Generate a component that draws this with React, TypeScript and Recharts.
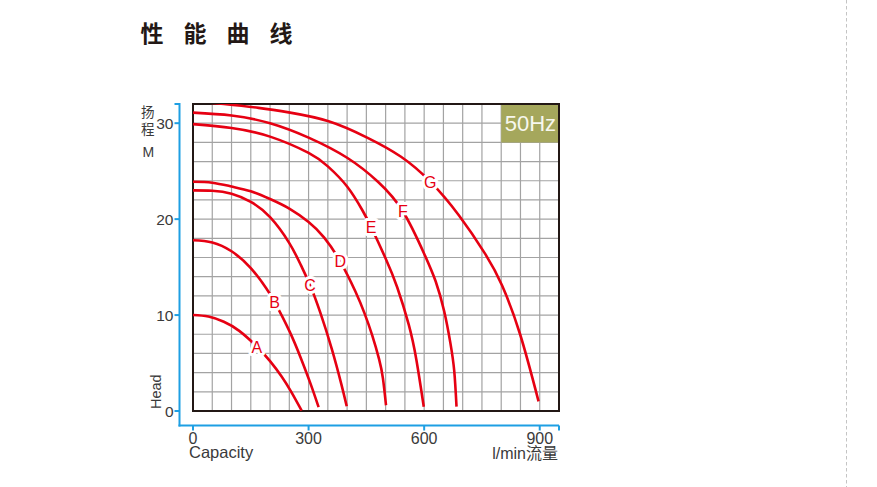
import React from "react";
import { LineChart, Line, XAxis, YAxis, CartesianGrid, ReferenceArea, LabelList } from "recharts";

// grid every 50 l/min and every 2 m, blue axis marks and labels
const xGrid = [0, 50, 100, 150, 200, 250, 300, 350, 400, 450, 500, 550, 600, 650, 700, 750, 800, 850, 900, 950];
const yGrid = [0, 2, 4, 6, 8, 10, 12, 14, 16, 18, 20, 22, 24, 26, 28, 30, 32];
const xMarks = [0, 300, 600, 900, 950];
const xLabels = [0, 300, 600, 900];
const yMarks = [0, 10, 20, 30, 32];
const yLabels = [0, 10, 20, 30];

type Pt = { q: number; h: number; tag?: string };

const curveA: Pt[] = [
  { q: 0, h: 10 }, { q: 40, h: 9.84 }, { q: 80, h: 9.3 }, { q: 120, h: 8.35 }, { q: 166, h: 6.7, tag: "A" },
  { q: 200, h: 5.2 }, { q: 230, h: 3.6 }, { q: 255, h: 2.0 }, { q: 282, h: 0.05 },
];
const curveB: Pt[] = [
  { q: 0, h: 17.8 }, { q: 50, h: 17.57 }, { q: 100, h: 16.65 }, { q: 150, h: 14.9 }, { q: 190, h: 12.8 },
  { q: 212, h: 11.35, tag: "B" }, { q: 250, h: 8.35 }, { q: 280, h: 5.5 }, { q: 305, h: 2.85 }, { q: 326, h: 0.4 },
];
const curveC: Pt[] = [
  { q: 0, h: 23.0 }, { q: 50, h: 22.96 }, { q: 100, h: 22.65 }, { q: 150, h: 21.8 }, { q: 200, h: 20.2 },
  { q: 250, h: 17.5 }, { q: 280, h: 15.2 }, { q: 304, h: 13.1, tag: "C" }, { q: 330, h: 10.3 },
  { q: 360, h: 6.5 }, { q: 385, h: 2.8 }, { q: 399, h: 0.5 },
];
const curveD: Pt[] = [
  { q: 0, h: 23.9 }, { q: 50, h: 23.8 }, { q: 100, h: 23.4 }, { q: 150, h: 22.9 }, { q: 200, h: 22.1 },
  { q: 250, h: 21.1 }, { q: 300, h: 19.7 }, { q: 340, h: 18.1 }, { q: 382, h: 15.6, tag: "D" },
  { q: 421, h: 12.5 }, { q: 445, h: 10.2 }, { q: 465, h: 7.9 }, { q: 483, h: 5.4 }, { q: 493, h: 3.4 }, { q: 501, h: 0.6 },
];
const curveE: Pt[] = [
  { q: 0, h: 29.9 }, { q: 100, h: 29.5 }, { q: 200, h: 28.6 }, { q: 300, h: 26.9 }, { q: 350, h: 25.5 },
  { q: 400, h: 23.4 }, { q: 440, h: 20.9 }, { q: 462, h: 19.2, tag: "E" }, { q: 500, h: 15.9 },
  { q: 530, h: 12.9 }, { q: 560, h: 9.0 }, { q: 580, h: 5.3 }, { q: 599, h: 0.45 },
];
const curveF: Pt[] = [
  { q: 0, h: 31.1 }, { q: 100, h: 30.8 }, { q: 200, h: 30.0 }, { q: 300, h: 28.5 }, { q: 400, h: 26.4 },
  { q: 480, h: 23.9 }, { q: 545, h: 20.8, tag: "F" }, { q: 600, h: 16.4 }, { q: 630, h: 13.5 },
  { q: 652, h: 10.4 }, { q: 668, h: 7.1 }, { q: 678, h: 4.2 }, { q: 684, h: 0.45 },
];
const curveG: Pt[] = [
  { q: 0, h: 32.3 }, { q: 80, h: 32.0 }, { q: 170, h: 31.6 }, { q: 252, h: 31.1 }, { q: 352, h: 30.2 },
  { q: 452, h: 28.5 }, { q: 540, h: 26.5 }, { q: 616, h: 23.9, tag: "G" }, { q: 690, h: 20.4 },
  { q: 758, h: 16.4 }, { q: 802, h: 13.1 }, { q: 849, h: 8.0 }, { q: 897, h: 1.0 },
];
const curves = [curveA, curveB, curveC, curveD, curveE, curveF, curveG];

const RED = "#e60012";
const BLUE = "#1e9fe3";
const INK = "#3a3a3a";
const LATIN = "'Liberation Sans', Arial, 'Noto Sans CJK SC', sans-serif";
const CJK = "'Noto Sans CJK SC', sans-serif";

// fixed layout of the page
const W = 877;
const H = 487;
const PLOT_RIGHT = 559;
const PLOT_TOP = 104;
const AX_X = 179.5;
const AX_Y = 425.5;

const XTick = (p: any) => {
  const v = p.payload.value;
  return (
    <g>
      {v === 0 && <line x1={AX_X - 1} y1={AX_Y} x2={PLOT_RIGHT} y2={AX_Y} stroke={BLUE} strokeWidth={2} />}
      {xMarks.includes(v) && <line x1={p.x} y1={AX_Y} x2={p.x} y2={AX_Y + 5} stroke={BLUE} strokeWidth={2} />}
      {xLabels.includes(v) && (
        <text x={p.x} y={444} textAnchor="middle" fontSize={16} fill={INK} fontFamily={LATIN}>{v}</text>
      )}
    </g>
  );
};

const YTick = (p: any) => {
  const v = p.payload.value;
  return (
    <g>
      {v === 0 && <line x1={AX_X} y1={PLOT_TOP - 1} x2={AX_X} y2={AX_Y + 1} stroke={BLUE} strokeWidth={2} />}
      {yMarks.includes(v) && <line x1={AX_X - 5} y1={p.y} x2={AX_X} y2={p.y} stroke={BLUE} strokeWidth={2} />}
      {yLabels.includes(v) && (
        <text x={173.5} y={p.y} dy={5.5} textAnchor="end" fontSize={15.5} fill={INK} fontFamily={LATIN}>{v}</text>
      )}
    </g>
  );
};

const Letter = (p: any) => {
  if (!p.value) return null;
  return (
    <text
      x={p.x} y={p.y} dy={6} textAnchor="middle" fontSize={16} fill={RED} fontFamily={LATIN}
      stroke="#fff" strokeWidth={6} strokeLinejoin="round" paintOrder="stroke"
    >
      {p.value}
    </text>
  );
};

const HzLabel = (p: any) => {
  const vb = p.viewBox;
  return (
    <text x={vb.x + 3.5} y={vb.y + vb.height / 2 + 8} fontSize={22} fill="#f7f7ee" fontFamily={LATIN}>50Hz</text>
  );
};

export default function App() {
  return (
    <div style={{ position: "absolute", left: 0, top: 0, width: W, height: H, background: "#fff" }}>
      <LineChart width={W} height={H} margin={{ top: PLOT_TOP, right: W - PLOT_RIGHT, bottom: 0, left: 0 }}>
        <XAxis
          type="number" dataKey="q" domain={[0, 950]} ticks={xGrid} interval={0}
          height={H - 411} axisLine={false} tickLine={false} tick={XTick}
        />
        <YAxis
          type="number" domain={[0, 32]} ticks={yGrid} interval={0} allowDataOverflow
          width={193} axisLine={false} tickLine={false} tick={YTick}
        />
        <CartesianGrid stroke="#a3a3a3" strokeWidth={1.2} />
        <ReferenceArea x1={800} x2={950} y1={28} y2={32} fill="#a5a75c" fillOpacity={1} stroke="none" label={HzLabel} />
        {curves.map((c, i) => (
          <Line
            key={i} data={c} dataKey="h" type="natural" stroke={RED} strokeWidth={2.6}
            dot={false} activeDot={false} isAnimationActive={false}
          >
            <LabelList dataKey="tag" content={Letter} />
          </Line>
        ))}
        <ReferenceArea x1={0} x2={950} y1={0} y2={32} fill="none" stroke="#231815" strokeWidth={2} />
      </LineChart>
      <svg width={W} height={H} style={{ position: "absolute", left: 0, top: 0, pointerEvents: "none" }}>
        <text x={140.5} y={42} fontSize={23} fontWeight="bold" letterSpacing={20} fill="#231815" fontFamily={CJK}>
          性能曲线
        </text>
        <text x={141} y={117} fontSize={13.5} fill={INK} fontFamily={CJK}>扬</text>
        <text x={141} y={134} fontSize={13.5} fill={INK} fontFamily={CJK}>程</text>
        <text x={142.5} y={157} fontSize={14} fill={INK} fontFamily={LATIN}>M</text>
        <text
          x={161.5} y={391.7} fontSize={14.5} fill={INK} fontFamily={LATIN} textAnchor="middle"
          transform="rotate(-90 161.5 391.7)"
        >
          Head
        </text>
        <text x={189} y={458} fontSize={16.5} fill={INK} fontFamily={LATIN}>Capacity</text>
        <text x={558} y={459} fontSize={16} fill={INK} fontFamily={LATIN} textAnchor="end">l/min流量</text>
        <line x1={846.5} y1={0} x2={846.5} y2={H} stroke="#c4c4c4" strokeWidth={1} strokeDasharray="3.5 2.5" />
      </svg>
    </div>
  );
}
